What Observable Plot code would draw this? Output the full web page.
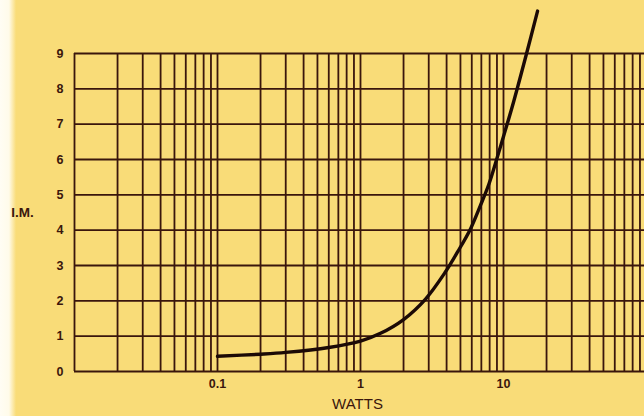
<!DOCTYPE html>
<html>
<head>
<meta charset="utf-8">
<script src="https://cdn.jsdelivr.net/npm/d3@7"></script>
<script src="https://cdn.jsdelivr.net/npm/@observablehq/plot@0.6"></script>
<style>
  html, body { margin: 0; padding: 0; background: #f9dd7c; }
</style>
</head>
<body>
<div id="chart"></div>
<script>
// Curve: intermodulation (I.M.) vs output power (watts)
const watts = [0.1, 0.2, 0.3, 0.6, 1, 1.38, 2.0, 2.85, 3.9, 4.8, 5.9, 6.9, 7.9, 8.8, 10, 11.8, 14.5, 17.3];
const im    = [0.43, 0.49, 0.54, 0.68, 0.86, 1.08, 1.47, 2.05, 2.8, 3.4, 4.05, 4.7, 5.3, 5.9, 6.65, 7.65, 9.0, 10.2];

// Log-paper vertical grid lines
const gridWatts = [0.01, 0.02, 0.03, 0.04, 0.05, 0.06, 0.07, 0.08, 0.09,
                   0.1, 0.2, 0.3, 0.4, 0.5, 0.6, 0.7, 0.8, 0.9,
                   1, 2, 3, 4, 5, 6, 7, 8, 9,
                   10, 20, 30, 40, 50, 60, 70, 80, 90];
const yTicks = [0, 1, 2, 3, 4, 5, 6, 7, 8, 9];
const xTicks = [0.1, 1, 10];
const xTickLabels = ["0.1", "1", "10"];
const xLabel = "WATTS";
const yLabel = "I.M.";

const data = watts.map((w, i) => ({w, v: im[i]}));
const ink = "#3a160c";

const chart = Plot.plot({
  width: 644,
  height: 416,
  marginLeft: 74,
  marginRight: 0,
  marginTop: 53,
  marginBottom: 45,
  style: {
    background: "linear-gradient(to right, #fffdf4 0px, #fffbea 9px, #f9dc78 16px)",
    fontFamily: "'Liberation Sans', Arial, sans-serif",
    color: ink
  },
  x: {type: "log", domain: [0.01, 100 * Math.pow(10, -2 / 143)]},
  y: {domain: [0, 9]},
  marks: [
    Plot.ruleX(gridWatts, {stroke: ink, strokeWidth: 1.8}),
    Plot.ruleY(yTicks, {stroke: ink, strokeWidth: 1.8}),
    Plot.line(data, {x: "w", y: "v", curve: "catmull-rom", stroke: "#1c0a06", strokeWidth: 3.4}),
    Plot.axisY({ticks: yTicks, tickSize: 0, tickPadding: 11, fontSize: 12.5, fontWeight: "bold", label: null}),
    Plot.axisX({ticks: xTicks, tickFormat: d => xTickLabels[xTicks.indexOf(d)], tickSize: 0, tickPadding: 8, fontSize: 12.5, fontWeight: "bold", label: null}),
    Plot.text([yLabel], {frameAnchor: "left", textAnchor: "middle", dx: -52, text: d => d, fontSize: 13.5, fontWeight: "bold", fill: ink}),
    Plot.text([xLabel], {frameAnchor: "bottom", dx: -2, dy: 37, text: d => d, fontSize: 15, fill: ink})
  ]
});
document.getElementById("chart").appendChild(chart);
</script>
</body>
</html>
